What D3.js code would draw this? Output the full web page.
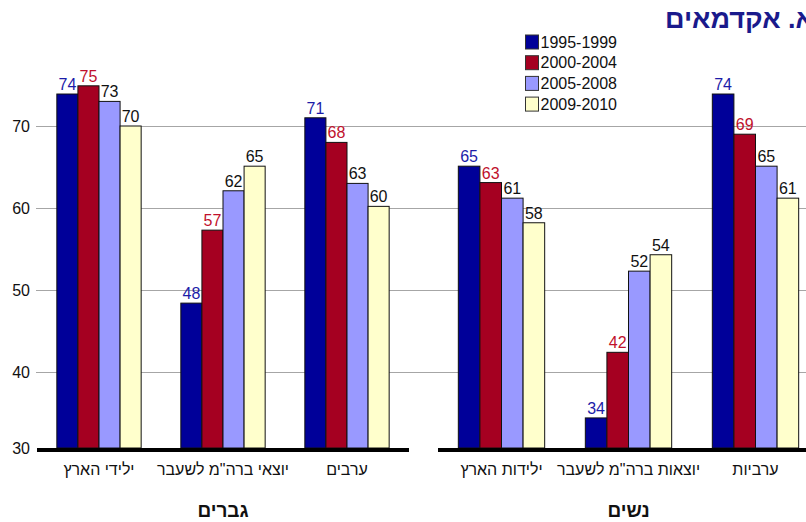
<!DOCTYPE html>
<html>
<head>
<meta charset="utf-8">
<script src="https://cdn.jsdelivr.net/npm/d3@7"></script>
<style>
  body { margin: 0; background: #fff; }
  svg { display: block; font-family: Arial, "Liberation Sans", sans-serif; }
</style>
</head>
<body>
<svg id="chart" width="806" height="522"></svg>
<script>
// series (periods) and their colours
var series = ["1995-1999", "2000-2004", "2005-2008", "2009-2010"];
var colors = ["#000099", "#a50021", "#9999ff", "#ffffcc"];
var labelColors = ["#1c1ca8", "#c0102c", "#111", "#111"];

// categories, left to right as drawn
var menCats = ["ילידי הארץ", "יוצאי ברה\"מ לשעבר", "ערבים"];
var womenCats = ["ילידות הארץ", "יוצאות ברה\"מ לשעבר", "ערביות"];

// values per category, one per series
var menNative = [73.9, 74.9, 73.0, 70.0];
var menFsu = [48.4, 57.3, 62.1, 65.1];
var menArab = [71.0, 68.0, 63.0, 60.2];
var womenNative = [65.1, 63.1, 61.2, 58.2];
var womenFsu = [34.4, 42.4, 52.3, 54.3];
var womenArab = [73.9, 69.0, 65.1, 61.2];

var yTicks = [30, 40, 50, 60, 70];

var svg = d3.select("#chart");

// y scale fitted to the gridlines, the plot floor sits a bit above 30
var y = d3.scaleLinear().domain([30, 70]).range([454, 126]);
var floorY = 448;

// gridlines
svg.append("g").selectAll("line")
  .data(yTicks.slice(1))
  .join("line")
  .attr("x1", 36).attr("x2", 806)
  .attr("y1", function(d){ return Math.round(y(d)) + 0.5; })
  .attr("y2", function(d){ return Math.round(y(d)) + 0.5; })
  .attr("stroke", "#a6a6a6").attr("stroke-width", 1);

// tick labels
svg.append("g").selectAll("text")
  .data(yTicks)
  .join("text")
  .attr("x", 30)
  .attr("y", function(d){ return d === 30 ? floorY : y(d); })
  .attr("dy", "0.35em")
  .attr("text-anchor", "end")
  .attr("font-size", 16)
  .attr("fill", "#111")
  .text(function(d){ return d; });

function drawPanel(cats, values, x0, x1, title){
  var x = d3.scaleBand().domain(cats).range([x0, x1]).paddingInner(0.32).paddingOuter(0.16);
  var xs = d3.scaleBand().domain(series).range([0, x.bandwidth()]);
  var g = svg.append("g");

  var groups = g.selectAll("g.cat")
    .data(cats.map(function(c, i){ return { cat: c, vals: values[i] }; }))
    .join("g")
    .attr("class", "cat")
    .attr("transform", function(d){ return "translate(" + x(d.cat) + ",0)"; });

  groups.selectAll("rect")
    .data(function(d){ return d.vals; })
    .join("rect")
    .attr("x", function(d, i){ return xs(series[i]); })
    .attr("y", function(d){ return y(d); })
    .attr("width", xs.bandwidth())
    .attr("height", function(d){ return floorY - y(d); })
    .attr("fill", function(d, i){ return colors[i]; })
    .attr("stroke", "#111").attr("stroke-width", 1);

  groups.selectAll("text")
    .data(function(d){ return d.vals; })
    .join("text")
    .attr("x", function(d, i){ return xs(series[i]) + xs.bandwidth() / 2; })
    .attr("y", function(d){ return y(d) - 4; })
    .attr("text-anchor", "middle")
    .attr("font-size", 16)
    .attr("fill", function(d, i){ return labelColors[i]; })
    .text(function(d){ return Math.round(d); });

  // thick baseline
  g.append("line")
    .attr("x1", x0).attr("x2", x1)
    .attr("y1", floorY + 2).attr("y2", floorY + 2)
    .attr("stroke", "#000").attr("stroke-width", 4);

  // category names
  g.selectAll("text.cat")
    .data(cats)
    .join("text")
    .attr("class", "cat")
    .attr("x", function(d){ return x(d) + x.bandwidth() / 2; })
    .attr("y", 475)
    .attr("text-anchor", "middle")
    .attr("direction", "rtl")
    .attr("font-size", 16)
    .attr("fill", "#111")
    .text(function(d){ return d; });

  g.append("text")
    .attr("x", (x0 + x1) / 2)
    .attr("y", 517)
    .attr("text-anchor", "middle")
    .attr("font-size", 19)
    .attr("font-weight", "bold")
    .attr("fill", "#111")
    .text(title);
}

drawPanel(menCats, [menNative, menFsu, menArab], 37, 409, "גברים");
drawPanel(womenCats, [womenNative, womenFsu, womenArab], 438, 819, "נשים");

// legend
var legend = svg.append("g").attr("transform", "translate(525,0)");
var leg = legend.selectAll("g")
  .data(series)
  .join("g")
  .attr("transform", function(d, i){ return "translate(0," + (42 + i * 20.7) + ")"; });
leg.append("rect")
  .attr("x", 0.5).attr("y", -7)
  .attr("width", 13).attr("height", 14)
  .attr("fill", function(d, i){ return colors[i]; })
  .attr("stroke", "#333").attr("stroke-width", 1);
leg.append("text")
  .attr("x", 15.5).attr("y", 0)
  .attr("dy", "0.35em")
  .attr("font-size", 16)
  .attr("fill", "#111")
  .text(function(d){ return d; });

// title, runs past the right edge like the original
svg.append("text")
  .attr("x", 814)
  .attr("y", 28)
  .attr("text-anchor", "end")
  .attr("font-size", 27)
  .attr("font-weight", "bold")
  .attr("fill", "#1a1a8c")
  .text("א. אקדמאים");
</script>
</body>
</html>
